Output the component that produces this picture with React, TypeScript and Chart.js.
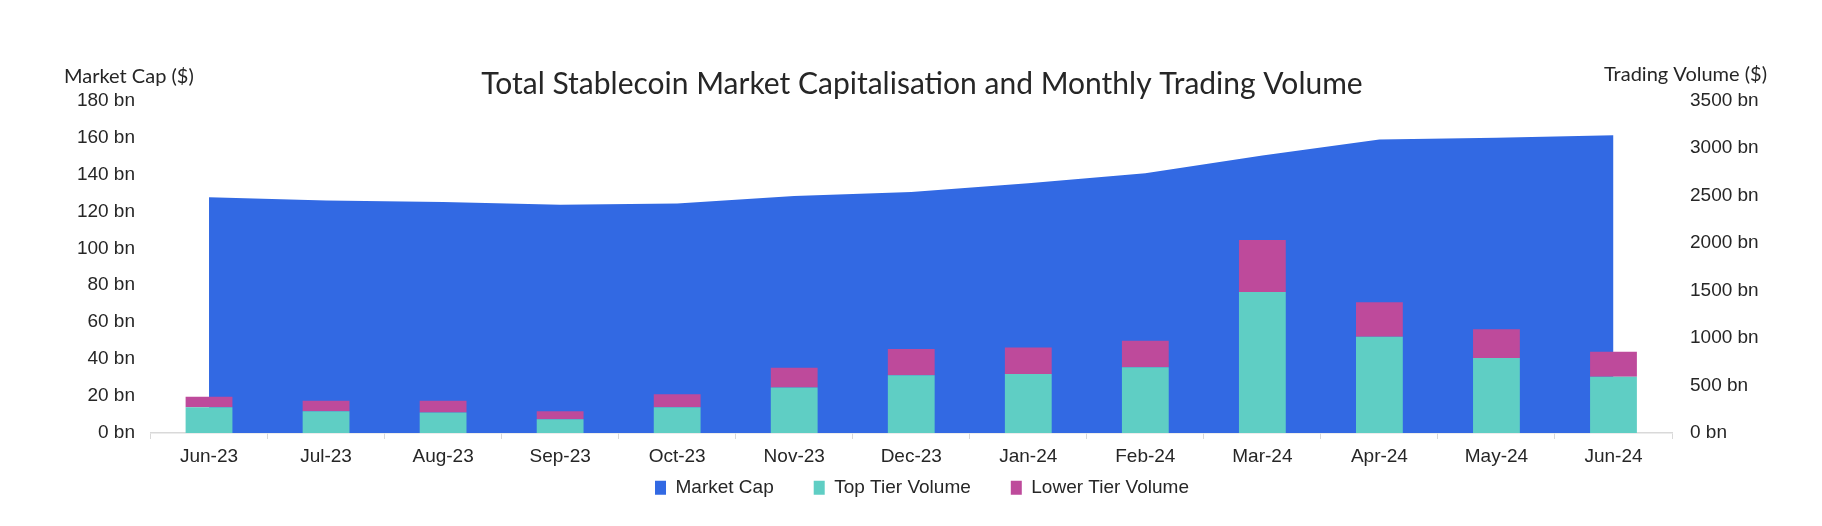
import { useEffect, useRef } from "react";
import Chart from "chart.js/auto";
import type { Plugin } from "chart.js";

const months = [
    "Jun-23", "Jul-23", "Aug-23", "Sep-23", "Oct-23", "Nov-23", "Dec-23",
    "Jan-24", "Feb-24", "Mar-24", "Apr-24", "May-24", "Jun-24",
];

// left axis, $ bn
const marketCap = [127.6, 125.8, 125.1, 123.5, 124.2, 128.3, 130.5, 135.2, 140.6, 150.2, 158.9, 159.8, 161.2];

// right axis, $ bn
const topTierVolume = [272, 229, 215, 145, 272, 480, 607, 621, 691, 1485, 1012, 790, 592];
const lowerTierVolume = [109, 110, 124, 84, 137, 208, 278, 278, 279, 547, 364, 303, 262];

const chartTitle = "Total Stablecoin Market Capitalisation and Monthly Trading Volume";
const leftAxisTitle = "Market Cap ($)";
const rightAxisTitle = "Trading Volume ($)";

const BLUE = "#3269e3";
const TEAL = "#5fcec4";
const MAGENTA = "#be4a9b";
const TEXT = "#262626";
const AXIS = "#d9d9d9";

const tickFont = { family: "'Liberation Sans', Arial, sans-serif", size: 19 };

// legend sits closer to the axis labels than chart.js would put it
const LEGEND_BLOCK = 44.2;
const LEGEND_LIFT = 35.5;

const axisTitles: Plugin<"bar"> = {
    id: "axisTitles",
    afterDraw(chart) {
        const { ctx } = chart;
        ctx.save();
        ctx.font = "20px Lato, sans-serif";
        ctx.fillStyle = TEXT;
        ctx.textBaseline = "middle";
        ctx.textAlign = "left";
        ctx.fillText(leftAxisTitle, 56, 69);
        ctx.textAlign = "right";
        ctx.fillText(rightAxisTitle, 1759, 67);
        ctx.restore();
    },
};

const legendPlacement: Plugin<"bar"> = {
    id: "legendPlacement",
    afterInit(chart) {
        const legend = chart.legend;
        if (!legend) {
            return;
        }
        const fit = legend.fit.bind(legend);
        legend.fit = () => {
            fit();
            legend.height = LEGEND_BLOCK;
        };
    },
    afterLayout(chart) {
        const legend = chart.legend;
        if (!legend) {
            return;
        }
        // only the top moves, so the legend's clip box still covers the items
        legend.top -= LEGEND_LIFT;
    },
};

function StablecoinChart() {
    const canvasRef = useRef<HTMLCanvasElement | null>(null);
    const chartRef = useRef<Chart | null>(null);

    useEffect(() => {
        const canvas = canvasRef.current;
        if (!canvas) {
            return;
        }

        if (chartRef.current) {
            chartRef.current.destroy();
        }

        chartRef.current = new Chart(canvas, {
            type: "bar",
            data: {
                labels: months,
                datasets: [
                    {
                        type: "line",
                        label: "Market Cap",
                        data: marketCap,
                        yAxisID: "y",
                        backgroundColor: BLUE,
                        borderColor: BLUE,
                        borderWidth: 0,
                        pointRadius: 0,
                        fill: "origin",
                        tension: 0,
                        order: 2,
                    },
                    {
                        type: "bar",
                        label: "Top Tier Volume",
                        data: topTierVolume,
                        yAxisID: "y1",
                        backgroundColor: TEAL,
                        borderWidth: 0,
                        stack: "vol",
                        order: 1,
                    },
                    {
                        type: "bar",
                        label: "Lower Tier Volume",
                        data: lowerTierVolume,
                        yAxisID: "y1",
                        backgroundColor: MAGENTA,
                        borderWidth: 0,
                        stack: "vol",
                        order: 1,
                    },
                ],
            },
            options: {
                animation: false,
                responsive: true,
                maintainAspectRatio: false,
                layout: { padding: { left: 22, right: 0, top: 0, bottom: 0 } },
                datasets: {
                    bar: { categoryPercentage: 1, barPercentage: 0.4 },
                },
                scales: {
                    x: {
                        stacked: true,
                        grid: {
                            display: true,
                            drawOnChartArea: false,
                            drawTicks: true,
                            tickLength: 6,
                            color: AXIS,
                        },
                        border: { display: true, color: AXIS, width: 1.5 },
                        ticks: { color: TEXT, font: tickFont, padding: 6, maxRotation: 0 },
                    },
                    y: {
                        position: "left",
                        min: 0,
                        max: 180,
                        afterFit: (scale) => {
                            scale.width = 120.5;
                        },
                        grid: { display: false, drawTicks: false },
                        border: { display: false },
                        ticks: {
                            stepSize: 20,
                            color: TEXT,
                            font: tickFont,
                            padding: 15.5,
                            callback: (value) => `${value} bn`,
                        },
                    },
                    y1: {
                        position: "right",
                        stacked: true,
                        min: 0,
                        max: 3500,
                        afterFit: (scale) => {
                            scale.width = 142;
                        },
                        grid: { display: false, drawTicks: false },
                        border: { display: false },
                        ticks: {
                            stepSize: 500,
                            color: TEXT,
                            font: tickFont,
                            padding: 18,
                            callback: (value) => `${value} bn`,
                        },
                    },
                },
                plugins: {
                    title: {
                        display: true,
                        text: chartTitle,
                        color: TEXT,
                        font: { family: "Lato, sans-serif", size: 30, weight: "normal" },
                        padding: { top: 58.5, bottom: -2 },
                    },
                    legend: {
                        position: "bottom",
                        labels: {
                            color: TEXT,
                            font: tickFont,
                            boxWidth: 11,
                            boxHeight: 14,
                            padding: 40,
                            sort: (a, b) => (a.datasetIndex ?? 0) - (b.datasetIndex ?? 0),
                        },
                    },
                    tooltip: { enabled: false },
                },
            },
            plugins: [axisTitles, legendPlacement],
        });

        return () => {
            if (chartRef.current) {
                chartRef.current.destroy();
                chartRef.current = null;
            }
        };
    }, []);

    return <canvas ref={canvasRef} />;
}

export default function App() {
    return (
        <div style={{ position: "relative", width: 1806, height: 510, background: "#fff" }}>
            <StablecoinChart />
        </div>
    );
}
